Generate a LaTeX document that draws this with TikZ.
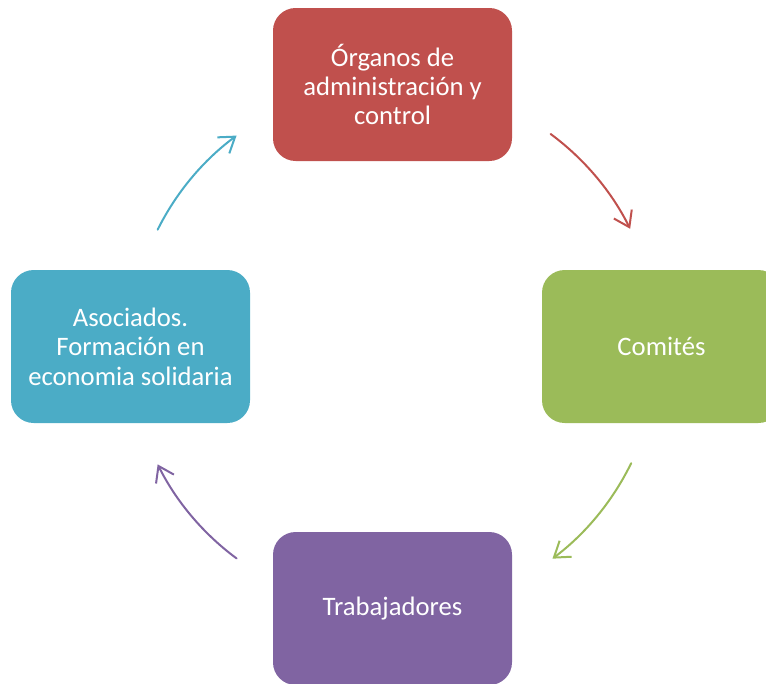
\documentclass[tikz,border=0pt]{standalone}
\usepackage{fontspec}
\setmainfont{Carlito}
\usetikzlibrary{arrows.meta,calc}

\definecolor{boxred}{HTML}{C0504D}
\definecolor{boxgreen}{HTML}{9BBB59}
\definecolor{boxpurple}{HTML}{8064A2}
\definecolor{boxblue}{HTML}{4BACC6}

\begin{document}
\begin{tikzpicture}[x=0.75pt,y=0.75pt,
    stage/.style={rectangle, rounded corners=17pt, fill=#1, text=white,
        minimum width=179.25pt, minimum height=114.75pt, inner sep=0pt,
        align=center, font=\fontsize{20}{22}\selectfont},
    cyclearrow/.style={draw=#1, line width=1.5pt, line cap=round,
        -{Straight Barb[length=11pt,width=15pt,line width=1.5pt]}}]
            \useasboundingbox (0,0) rectangle (766,-683);
            \node[stage=boxred] (organos) at (392.5,-84.5)
                {Órganos de\\administración y\\control};
            \node[stage=boxgreen] (comites) at (661.5,-346.5) {Comités};
            \node[stage=boxpurple] (trabajadores) at (392.5,-608.5) {Trabajadores};
            \node[stage=boxblue] (asociados) at (130.5,-346.5)
                {Asociados.\\Formación en\\economia solidaria};
            % arrows on a circle round the middle
            \coordinate (ctr) at (393,-347);
            \coordinate (redstart) at ($(ctr)+(53.5:265)$);
            \coordinate (greenstart) at ($(ctr)+(-26:265)$);
            \coordinate (purplestart) at ($(ctr)+(-126.5:263)$);
            \coordinate (bluestart) at ($(ctr)+(153.5:263)$);
            \draw[cyclearrow=boxred] (redstart) arc[start angle=53.5, end angle=26.5, radius=265];
            \draw[cyclearrow=boxgreen] (greenstart) arc[start angle=-26, end angle=-53, radius=265];
            \draw[cyclearrow=boxpurple] (purplestart) arc[start angle=-126.5, end angle=-153.5, radius=263];
            \draw[cyclearrow=boxblue] (bluestart) arc[start angle=153.5, end angle=126.5, radius=263];
        \end{tikzpicture}
\end{document}
